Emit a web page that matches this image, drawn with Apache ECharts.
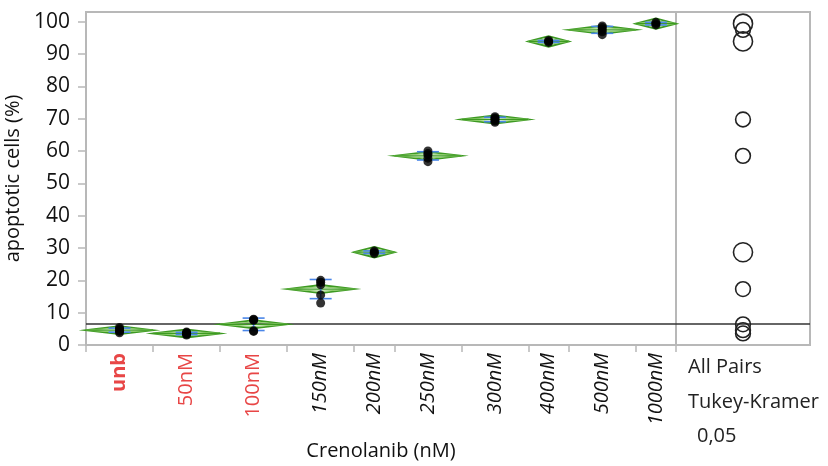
<!DOCTYPE html>
<html>
<head>
<meta charset="utf-8">
<script src="https://cdn.jsdelivr.net/npm/echarts@6/dist/echarts.min.js"></script>
<style>html,body{margin:0;padding:0;background:#fff}#c{width:828px;height:466px}</style>
</head>
<body>
<div id="c"></div>
<script>
// ---- data ----
const categories = ['unb', '50nM', '100nM', '150nM', '200nM', '250nM', '300nM', '400nM', '500nM', '1000nM'];
const unb    = [3.8, 4.2, 4.6, 5.0, 5.4];
const nM50   = [3.1, 3.4, 3.6, 3.8, 4.0];
const nM100  = [8.0, 7.8, 7.6, 4.4, 4.2];
const nM150  = [20.0, 19.4, 18.6, 15.5, 13.0];
const nM200  = [28.3, 28.7, 29.1];
const nM250  = [60.0, 59.2, 58.8, 57.8, 56.7];
const nM300  = [70.6, 70.2, 69.8, 69.3, 68.9];
const nM400  = [93.6, 93.9, 94.2];
const nM500  = [98.7, 98.2, 97.6, 96.9, 96.0];
const nM1000 = [99.0, 99.4, 99.8];
const groups = [unb, nM50, nM100, nM150, nM200, nM250, nM300, nM400, nM500, nM1000];
const yTicks = [0, 10, 20, 30, 40, 50, 60, 70, 80, 90, 100];
const refLine = 6.5;
const tCrit = 2.032;   // t(0.975, df=34)
const qCrit = 4.72;    // studentized range, k=10, df=34
const panelText = ['All Pairs', 'Tukey-Kramer', '0,05'];

// ---- derived statistics ----
const ns = groups.map(g => g.length);
const means = groups.map(g => g.reduce((a, b) => a + b, 0) / g.length);
const sds = groups.map((g, i) => Math.sqrt(g.reduce((a, v) => a + (v - means[i]) ** 2, 0) / (g.length - 1)));
let ss = 0, df = 0;
groups.forEach((g, i) => { g.forEach(v => ss += (v - means[i]) ** 2); df += g.length - 1; });
const sp = Math.sqrt(ss / df);
const bounds = [0];
ns.forEach(n => bounds.push(bounds[bounds.length - 1] + n));
const total = bounds[bounds.length - 1];
const centers = ns.map((n, i) => bounds[i] + n / 2);

const diamondData = groups.map((g, i) => [bounds[i], bounds[i + 1], means[i], tCrit * sp / Math.sqrt(ns[i])]);
const sdData = groups.map((g, i) => [centers[i], means[i], sds[i]]);
const pointData = [];
groups.forEach((g, i) => g.forEach(v => pointData.push([centers[i], v])));
const circleData = groups.map((g, i) => [0.5, means[i], qCrit / Math.SQRT2 * sp / Math.sqrt(ns[i]) * 1.1]);

const FONT = 'Open Sans';
const GRAY = '#b8b8b8';

const chart = echarts.init(document.getElementById('c'));
chart.setOption({
  animation: false,
  textStyle: { fontFamily: FONT },
  grid: [
    { left: 86, top: 12, width: 590, height: 333, show: true, borderColor: GRAY, borderWidth: 2, backgroundColor: 'transparent', containLabel: false, outerBoundsMode: 'none' },
    { left: 676, top: 12, width: 134, height: 333, show: true, borderColor: GRAY, borderWidth: 2, backgroundColor: 'transparent', containLabel: false, outerBoundsMode: 'none' }
  ],
  xAxis: [
    {
      type: 'value', gridIndex: 0, min: 0, max: total,
      axisLine: { show: false }, splitLine: { show: false },
      axisTick: { show: true, customValues: bounds, length: 7, lineStyle: { color: GRAY, width: 1.5 } },
      axisLabel: {
        customValues: centers, rotate: 90, margin: 8, fontSize: 20, fontFamily: FONT,
        formatter: function (v) {
          let idx = centers.findIndex(c => Math.abs(c - v) < 1e-6);
          if (idx < 0) return '';
          const name = categories[idx];
          if (idx === 0) return '{b|' + name + '}';
          if (idx < 3) return '{r|' + name + '}';
          return '{i|' + name + '}';
        },
        rich: {
          b: { color: '#e84646', fontWeight: 'bold', fontSize: 20, fontFamily: FONT },
          r: { color: '#e84646', fontSize: 20, fontFamily: FONT },
          i: { color: '#111', fontStyle: 'italic', fontSize: 20, fontFamily: FONT }
        }
      },
      name: 'Crenolanib (nM)', nameLocation: 'middle', nameGap: 96,
      nameTextStyle: { fontSize: 20, color: '#111', fontFamily: FONT }
    },
    { type: 'value', gridIndex: 1, min: 0, max: 1, show: false }
  ],
  yAxis: [
    {
      type: 'value', gridIndex: 0, min: 0, max: 103,
      axisLine: { show: false }, splitLine: { show: false },
      axisTick: { show: true, customValues: yTicks, length: 8, lineStyle: { color: GRAY, width: 1.5 } },
      axisLabel: { customValues: yTicks, fontSize: 21, color: '#111', margin: 16, fontFamily: FONT },
      name: 'apoptotic cells (%)', nameLocation: 'middle', nameGap: 56,
      nameTextStyle: { fontSize: 20, color: '#111', fontFamily: FONT }
    },
    { type: 'value', gridIndex: 1, min: 0, max: 103, show: false }
  ],
  series: [
    {
      type: 'custom', xAxisIndex: 0, yAxisIndex: 0, data: diamondData, z: 3,
      renderItem: function (params, api) {
        const x0 = api.value(0), x1 = api.value(1), m = api.value(2), ci = api.value(3);
        const xc = (x0 + x1) / 2;
        const L = api.coord([x0, m]), R = api.coord([x1, m]);
        const T = api.coord([xc, m + ci]), B = api.coord([xc, m - ci]);
        const T2 = api.coord([xc, m + ci * 0.55]), B2 = api.coord([xc, m - ci * 0.55]);
        return {
          type: 'group', children: [
            { type: 'polygon', shape: { points: [L, T, R, B] }, style: { fill: 'rgba(70,160,40,0.10)', stroke: '#3d9a22', lineWidth: 1.8 } },
            { type: 'polygon', shape: { points: [L, T2, R, B2] }, style: { fill: 'none', stroke: '#8ccc6a', lineWidth: 1 } },
            { type: 'line', shape: { x1: L[0], y1: L[1], x2: R[0], y2: R[1] }, style: { stroke: '#3d9a22', lineWidth: 1.2 } }
          ]
        };
      }
    },
    {
      type: 'custom', xAxisIndex: 0, yAxisIndex: 0, data: sdData, z: 4,
      renderItem: function (params, api) {
        const x = api.value(0), m = api.value(1), s = api.value(2);
        const top = api.coord([x, m + s]), bot = api.coord([x, m - s]);
        const w = 11;
        const st = { stroke: '#4a86e8', lineWidth: 1.6 };
        return {
          type: 'group', children: [
            { type: 'line', shape: { x1: top[0], y1: top[1], x2: bot[0], y2: bot[1] }, style: st },
            { type: 'line', shape: { x1: top[0] - w, y1: top[1], x2: top[0] + w, y2: top[1] }, style: st },
            { type: 'line', shape: { x1: bot[0] - w, y1: bot[1], x2: bot[0] + w, y2: bot[1] }, style: st }
          ]
        };
      }
    },
    {
      type: 'scatter', xAxisIndex: 0, yAxisIndex: 0, data: pointData, z: 5,
      symbolSize: 9, itemStyle: { color: '#000' },
      markLine: {
        silent: true, symbol: 'none', label: { show: false }, z: 2,
        lineStyle: { color: '#333', width: 1.5, type: 'solid' },
        data: [{ yAxis: refLine }]
      }
    },
    {
      type: 'custom', xAxisIndex: 1, yAxisIndex: 1, data: circleData, z: 4,
      renderItem: function (params, api) {
        const c = api.coord([api.value(0), api.value(1)]);
        const r = api.size([0, api.value(2)])[1];
        return { type: 'circle', shape: { cx: c[0], cy: c[1], r: r }, style: { fill: 'none', stroke: '#222', lineWidth: 1.6 } };
      },
      markLine: {
        silent: true, symbol: 'none', label: { show: false }, z: 2,
        lineStyle: { color: '#333', width: 1.5, type: 'solid' },
        data: [{ yAxis: refLine }]
      }
    }
  ],
  graphic: [
    { type: 'text', left: 688, top: 357, style: { text: panelText[0], fontSize: 20, fill: '#222', fontFamily: FONT } },
    { type: 'text', left: 688, top: 392, style: { text: panelText[1], fontSize: 20, fill: '#222', fontFamily: FONT } },
    { type: 'text', left: 697, top: 426, style: { text: panelText[2], fontSize: 20, fill: '#222', fontFamily: FONT } }
  ]
});
</script>
</body>
</html>
